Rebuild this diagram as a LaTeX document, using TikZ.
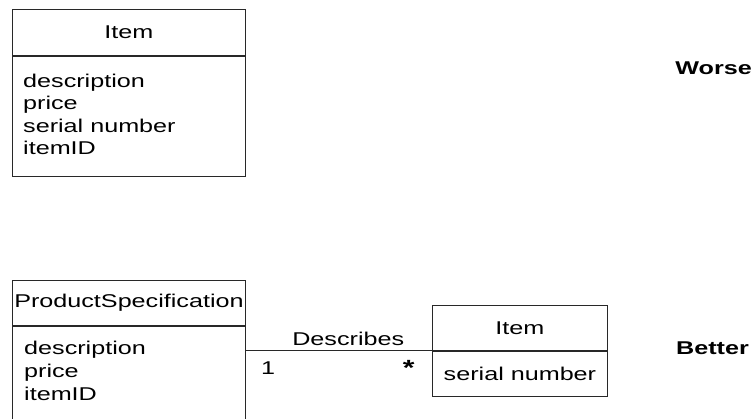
\documentclass[tikz,border=0pt]{standalone}
\usepackage{fontspec}
\setmainfont{Liberation Sans}[FakeStretch=1.36]
\usepackage{tikz}
\usetikzlibrary{calc, positioning}
\definecolor{umlline}{RGB}{40, 40, 40}
\newcommand{\umlfont}{\fontsize{18.5}{22.5}\selectfont}
\tikzset{
  classbox/.style={draw=umlline, line width=0.9pt, inner sep=0pt, anchor=north west},
  attrtext/.style={anchor=base west, align=left, inner sep=0pt},
  assoc/.style={draw=umlline, line width=0.9pt},
  verdict/.style={font=\umlfont\bfseries, inner sep=0pt, anchor=base east},
}

\begin{document}
\begin{tikzpicture}[x=1pt, y=-1pt, font=\umlfont]
  \clip (0,0) rectangle (755,419);

  % Worse: a single Item class holding everything
  \node[classbox, minimum width=233pt, minimum height=46pt] (wItem) at (12,9) {Item};
  \node[classbox, minimum width=233pt, minimum height=120pt] (wItemAttrs) at (wItem.south west) {};
  % (base is the baseline of the last line)
  \node[attrtext] (wItemList) at (23,155)
    {description\\price\\serial number\\itemID};

  % Better: ProductSpecification describes many Items
  \node[classbox, minimum width=233pt, minimum height=45pt] (bSpec) at (12,280) {ProductSpecification};
  \node[classbox, minimum width=233pt, minimum height=130pt] (bSpecAttrs) at (bSpec.south west) {};
  \node[attrtext] (bSpecList) at (24,400)
    {description\\price\\itemID};

  \node[classbox, minimum width=175pt, minimum height=45pt] (bItem) at (432,305) {Item};
  \node[classbox, minimum width=175pt, minimum height=45pt] (bItemAttrs) at (bItem.south west) {serial number};

  % Association
  \draw[assoc] (bSpecAttrs.east |- bItem.south) -- (bItem.south west)
    node[pos=0.55, above=5pt, inner sep=0pt] (lDescribes) {Describes}
    node[pos=0.12, below=10pt, inner sep=0pt] (lOne) {1}
    node[pos=0.875, below=9pt, inner sep=0pt, font=\fontsize{22}{22}\selectfont\bfseries] (lMany) {*};

  % Verdicts
  \node[verdict] (lWorse) at (752,75) {Worse};
  \node[verdict] (lBetter) at (749,355) {Better};
\end{tikzpicture}
\end{document}
